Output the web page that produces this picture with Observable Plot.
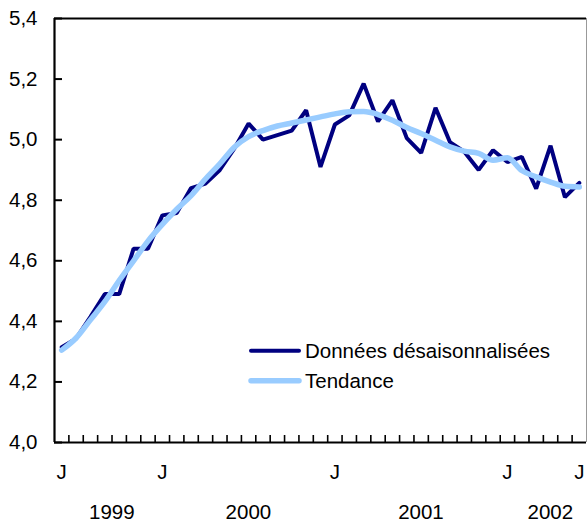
<!DOCTYPE html>
<html><head><meta charset="utf-8">
<script src="https://cdn.jsdelivr.net/npm/d3@7"></script>
<script src="https://cdn.jsdelivr.net/npm/@observablehq/plot@0.6"></script>
<style>body{margin:0;background:#fff} #chart{width:587px;height:522px}</style>
</head><body><div id="chart"></div>
<script>
const categories = [
  "1999-06","1999-07","1999-08","1999-09","1999-10","1999-11","1999-12",
  "2000-01","2000-02","2000-03","2000-04","2000-05","2000-06","2000-07","2000-08","2000-09","2000-10","2000-11","2000-12",
  "2001-01","2001-02","2001-03","2001-04","2001-05","2001-06","2001-07","2001-08","2001-09","2001-10","2001-11","2001-12",
  "2002-01","2002-02","2002-03","2002-04","2002-05","2002-06"
];
const desaisonnalisees = [
  4.315, 4.343, 4.415, 4.49, 4.49, 4.64, 4.64,
  4.75, 4.758, 4.84, 4.855, 4.90, 4.97, 5.053, 5.00, 5.015, 5.03, 5.097, 4.91,
  5.05, 5.08, 5.185, 5.06, 5.13, 5.005, 4.956, 5.105, 4.992, 4.96, 4.90, 4.965,
  4.926, 4.943, 4.838, 4.98, 4.81, 4.857
];
const tendance = [
  4.305, 4.345, 4.405, 4.465, 4.535, 4.60, 4.665,
  4.72, 4.77, 4.815, 4.87, 4.92, 4.975, 5.01, 5.03, 5.045, 5.055, 5.065, 5.075,
  5.085, 5.092, 5.093, 5.083, 5.064, 5.04, 5.02, 4.998, 4.976, 4.962, 4.955, 4.932,
  4.94, 4.898, 4.877, 4.86, 4.846, 4.844
];
const yTicks = [4.0, 4.2, 4.4, 4.6, 4.8, 5.0, 5.2, 5.4];
const monthTickCats = ["1999-06","2000-01","2001-01","2002-01","2002-06"];
const monthTickLabels = ["J","J","J","J","J"];
const years = ["1999","2000","2001","2002"];
const seriesNames = ["Données désaisonnalisées","Tendance"];
const seriesColors = ["#000080","#99CCFF"];

const data = categories.map((c, i) => ({i, c, d: desaisonnalisees[i], t: tendance[i]}));
const boundaries = categories.slice(1).map((c, i) => i + 0.5);
const yearSpans = years.map(y => {
  const idx = categories.map((c, i) => c.startsWith(y) ? i : -1).filter(i => i >= 0);
  return {y, x: (idx[0] + idx[idx.length - 1]) / 2};
});
const fmt = v => v.toFixed(1).replace(".", ",");

const W = 587, H = 522, mL = 54, mR = 1, mT = 18, mB = 80;
const plot = Plot.plot({
  width: W, height: H, marginLeft: mL, marginRight: mR, marginTop: mT, marginBottom: mB,
  style: {fontFamily: "'Liberation Sans', Arial, sans-serif", fontSize: "20.5px", color: "#000", background: "#fff"},
  x: {domain: [-0.5, categories.length - 0.5], axis: null},
  y: {domain: [yTicks[0], yTicks[yTicks.length - 1]], axis: null},
  marks: [
    Plot.line(data, {x: "i", y: "d", stroke: seriesColors[0], strokeWidth: 4, strokeLinejoin: "miter"}),
    Plot.line(data, {x: "i", y: "t", stroke: seriesColors[1], strokeWidth: 5.5, curve: "monotone-x"}),
    Plot.tickY(yTicks, {y: d => d, stroke: "#000", strokeWidth: 2, insetRight: (W - mL - mR) - 8}),
    Plot.tickX(boundaries, {x: d => d, stroke: "#000", strokeWidth: 1.6, insetTop: (H - mT - mB) - 7}),
    Plot.ruleX([-0.5], {stroke: "#000", strokeWidth: 2.2}),
    Plot.ruleX([categories.length - 0.5], {stroke: "#999", strokeWidth: 1}),
    Plot.ruleY([yTicks[0]], {stroke: "#000", strokeWidth: 2.2}),
    Plot.ruleY([yTicks[yTicks.length - 1]], {stroke: "#000", strokeWidth: 2.2}),
    Plot.text(yTicks, {y: d => d, text: d => fmt(d), frameAnchor: "left", textAnchor: "end", dx: -17, fill: "#000"}),
    Plot.text(monthTickCats, {x: c => categories.indexOf(c), text: (c, i) => monthTickLabels[i], frameAnchor: "bottom", dy: 30, lineAnchor: "middle", fill: "#000"}),
    Plot.text(yearSpans, {x: "x", text: "y", frameAnchor: "bottom", dy: 70, dx: 7, lineAnchor: "middle", fill: "#000"})
  ]
});
document.getElementById("chart").appendChild(plot);

const svg = d3.select(plot);
const lg = svg.append("g").attr("text-anchor", "start");
seriesNames.forEach((name, k) => {
  const yy = 350.7 + k * 30;
  lg.append("line").attr("x1", 251).attr("x2", 299).attr("y1", yy).attr("y2", yy)
    .attr("stroke", seriesColors[k]).attr("stroke-width", k === 0 ? 4 : 5.5)
    .attr("stroke-linecap", "round");
  lg.append("text").attr("x", 305).attr("y", yy).attr("dy", "0.35em")
    .attr("text-anchor", "start").attr("fill", "#000").attr("font-size", "20.5px").text(name);
});
</script>
</body></html>
